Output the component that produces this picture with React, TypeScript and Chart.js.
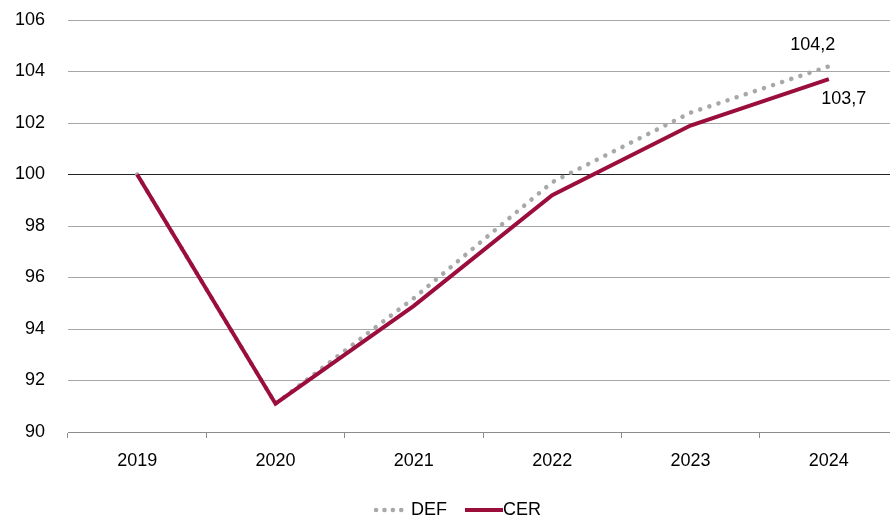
import React, { useEffect, useRef } from "react";
import { Chart, registerables } from "chart.js";

Chart.register(...registerables);

const categories = ["2019", "2020", "2021", "2022", "2023", "2024"];
const defValues = [100, 91.1, 95.2, 99.7, 102.4, 104.2];
const cerValues = [100, 91.1, 94.9, 99.2, 101.9, 103.7];
const seriesNames = ["DEF", "CER"];
const endLabels = ["104,2", "103,7"];
const yMin = 90;
const yMax = 106;
const yStep = 2;

const CER_COLOR = "#9B0E3C";
const DEF_COLOR = "#A8A8A8";
const FONT = "'Liberation Sans', Arial, sans-serif";

const overlayPlugin = {
  id: "overlay",
  afterDraw(chart: any) {
    const ctx = chart.ctx;
    const xs = chart.scales.x;
    const ys = chart.scales.y;
    const last = categories.length - 1;
    ctx.save();
    ctx.font = `18px ${FONT}`;
    ctx.fillStyle = "#000";
    ctx.textAlign = "center";
    ctx.textBaseline = "middle";
    const xd = xs.getPixelForValue(last);
    const yd = ys.getPixelForValue(defValues[last]);
    ctx.fillText(endLabels[0], xd - 16, yd - 21);
    const yc = ys.getPixelForValue(cerValues[last]);
    ctx.fillText(endLabels[1], xd + 15, yc + 20);

    // legend
    const ly = 510;
    ctx.lineCap = "round";
    ctx.strokeStyle = DEF_COLOR;
    ctx.lineWidth = 4.5;
    ctx.setLineDash([0.1, 8.3]);
    ctx.beginPath();
    ctx.moveTo(376, ly);
    ctx.lineTo(402, ly);
    ctx.stroke();
    ctx.setLineDash([]);
    ctx.textAlign = "left";
    ctx.fillText(seriesNames[0], 411, ly);
    ctx.strokeStyle = CER_COLOR;
    ctx.lineWidth = 4;
    ctx.lineCap = "butt";
    ctx.beginPath();
    ctx.moveTo(465, ly);
    ctx.lineTo(503, ly);
    ctx.stroke();
    ctx.fillText(seriesNames[1], 503, ly);
    ctx.restore();
  },
};

export default function App() {
  const ref = useRef<HTMLCanvasElement>(null);
  useEffect(() => {
    document.body.style.margin = "0";
    document.body.style.overflow = "hidden";
    const chart = new Chart(ref.current!, {
      type: "line",
      data: {
        labels: categories,
        datasets: [
          {
            label: seriesNames[1],
            data: cerValues,
            borderColor: CER_COLOR,
            borderWidth: 4,
            pointRadius: 0,
            tension: 0,
            borderJoinStyle: "miter",
          },
          {
            label: seriesNames[0],
            data: defValues,
            borderColor: DEF_COLOR,
            borderWidth: 4.5,
            borderDash: [0.1, 9.5],
            borderCapStyle: "round",
            pointRadius: 0,
            tension: 0,
          },
        ],
      },
      options: {
        animation: false,
        responsive: false,
        layout: { padding: { top: 20, right: 2, bottom: 40, left: 0 } },
        plugins: {
          legend: { display: false },
          tooltip: { enabled: false },
        },
        scales: {
          x: {
            offset: true,
            grid: {
              offset: true,
              drawOnChartArea: false,
              drawTicks: true,
              tickLength: 6,
              color: "#8c8c8c",
            },
            border: { display: true, color: "#8c8c8c", width: 1 },
            ticks: {
              font: { family: FONT, size: 18 },
              color: "#000",
              padding: 12,
              maxRotation: 0,
            },
            afterFit: (s: any) => {
              s.height = 47;
              s.paddingLeft = 0;
              s.paddingRight = 0;
            },
          },
          y: {
            min: yMin,
            max: yMax,
            grid: {
              drawTicks: false,
              color: (c: any) =>
                c.tick && c.tick.value === 100 ? "#222" : "#a6a6a6",
              lineWidth: 1,
            },
            border: { display: false },
            ticks: {
              stepSize: yStep,
              font: { family: FONT, size: 18 },
              color: "#000",
              padding: 23,
            },
            afterFit: (s: any) => {
              s.width = 68;
              s.paddingTop = 0;
              s.paddingBottom = 0;
            },
          },
        },
      },
      plugins: [overlayPlugin],
    });
    return () => chart.destroy();
  }, []);
  return (
    <div style={{ position: "absolute", left: 0, top: 0, width: 890, height: 519, overflow: "hidden" }}>
      <canvas ref={ref} width={900} height={519} style={{ display: "block" }} />
    </div>
  );
}
